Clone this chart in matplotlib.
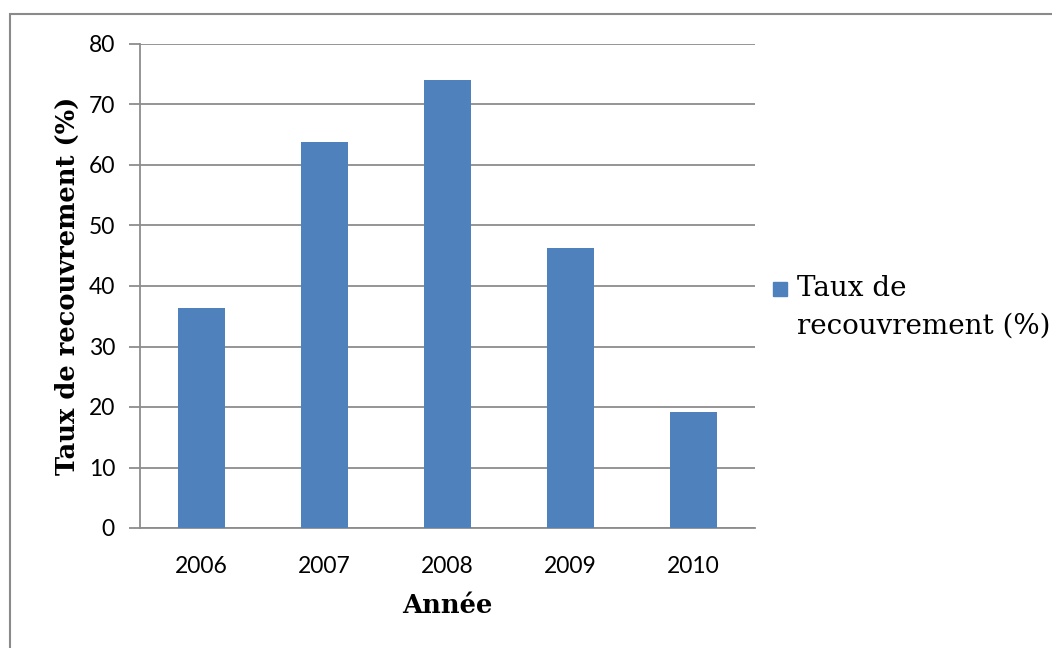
import matplotlib
matplotlib.use("Agg")
import matplotlib.pyplot as plt
from matplotlib.patches import Rectangle

annees = ["2006", "2007", "2008", "2009", "2010"]
taux = [36.4, 63.8, 74.0, 46.3, 19.2]
y_ticks = [0, 10, 20, 30, 40, 50, 60, 70, 80]

bar_color = "#4f81bd"
grid_color = "#8c8c8c"
tick_font = "Lato"
serif_font = "DejaVu Serif"
W, H = 1052, 648

fig = plt.figure(figsize=(W / 100, H / 100), dpi=100, facecolor="white")

# outer frame of the chart (cut off at right and bottom)
fig.patches.append(Rectangle((10 / W, -0.1), 1.2, 1 - 14 / H + 0.1,
                             transform=fig.transFigure, fill=False,
                             edgecolor="#8a8a8a", lw=1.5, zorder=0))

ax = fig.add_axes([140 / W, 1 - 528 / H, 615 / W, 484 / H])
x = range(len(annees))
ax.bar(x, taux, width=0.39, color=bar_color, zorder=3)

ax.set_xlim(-0.5, len(annees) - 0.5)
ax.set_ylim(0, 80)
ax.set_yticks(y_ticks)
ax.set_xticks(list(x))
ax.set_xticklabels(annees)
ax.grid(axis="y", color=grid_color, lw=1.3, zorder=0)
ax.set_axisbelow(True)

for s in ("top", "right"):
    ax.spines[s].set_visible(False)
ax.spines["left"].set_color(grid_color)
ax.spines["bottom"].set_color(grid_color)
ax.spines["left"].set_linewidth(1.3)
ax.spines["bottom"].set_linewidth(1.3)

ax.tick_params(axis="y", length=8, width=1.3, color=grid_color, pad=10)
ax.tick_params(axis="x", length=0, pad=20)
for lab in ax.get_xticklabels() + ax.get_yticklabels():
    lab.set_fontfamily(tick_font)
    lab.set_fontsize(16.5)

ax.set_ylabel("Taux de recouvrement (%)", fontfamily=serif_font,
              fontweight="bold", fontsize=18.5, labelpad=6)
ax.set_xlabel("Année", fontfamily=serif_font, fontweight="bold",
              fontsize=18.5, labelpad=12)

# legend: square next to the first line of a two-line label
fig.patches.append(Rectangle((773 / W, 1 - 296 / H), 14 / W, 14 / H,
                             transform=fig.transFigure, color=bar_color))
fig.text(797 / W, 1 - 275 / H, "Taux de\nrecouvrement (%)",
         ha="left", va="top", fontfamily=serif_font, fontsize=20,
         linespacing=1.5)

fig.savefig("out.png", dpi=100, facecolor="white")
